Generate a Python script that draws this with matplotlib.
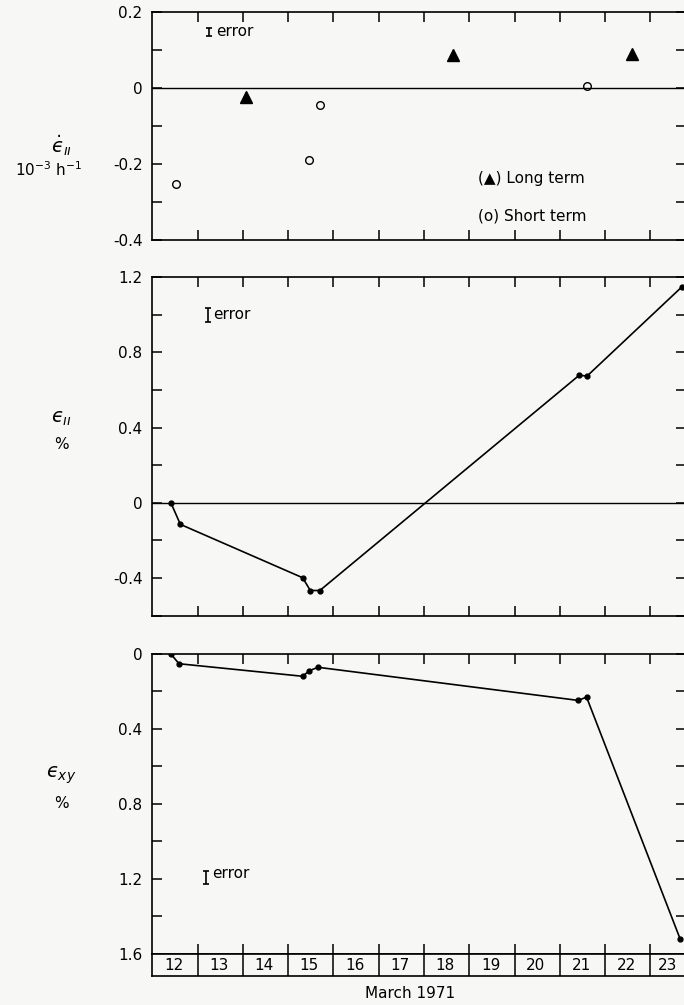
import matplotlib
matplotlib.use('Agg')
import matplotlib.pyplot as plt
import numpy as np

# ---------------- data ----------------
days = list(range(12, 24))
day_labels = [str(d) for d in days]

# top panel: strain rate (10^-3 h^-1)
long_x = [14.06, 18.63, 22.60]
long_y = [-0.022, 0.087, 0.091]
short_x = [12.53, 15.46, 15.70, 21.61]
short_y = [-0.251, -0.188, -0.045, 0.006]

# middle panel: longitudinal strain (%)
eii_x = [12.41, 12.62, 15.32, 15.49, 15.70, 21.43, 21.60, 23.70]
eii_y = [0.0, -0.115, -0.399, -0.467, -0.467, 0.679, 0.674, 1.150]

# bottom panel: shear strain (%)
exy_x = [12.41, 12.59, 15.32, 15.47, 15.66, 21.41, 21.59, 23.66]
exy_y = [0.0, 0.052, 0.119, 0.089, 0.071, 0.248, 0.230, 1.524]

# error-bar half sizes for the "I error" keys
err_top = 0.011
err_mid = 0.036
err_bot = 0.036

top_ticks = [0.2, 0.1, 0.0, -0.1, -0.2, -0.3, -0.4]
top_labels = ['0.2', '', '0', '', '-0.2', '', '-0.4']
mid_ticks = [1.2, 1.0, 0.8, 0.6, 0.4, 0.2, 0.0, -0.2, -0.4, -0.6]
mid_labels = ['1.2', '', '0.8', '', '0.4', '', '0', '', '-0.4', '']
bot_ticks = [0.0, 0.2, 0.4, 0.6, 0.8, 1.0, 1.2, 1.4, 1.6]
bot_labels = ['0', '', '0.4', '', '0.8', '', '1.2', '', '1.6']

# ---------------- layout ----------------
W, H = 684, 1005
BG = '#f7f8f6'
plt.rcParams['font.family'] = ['DejaVu Sans']
plt.rcParams['mathtext.fontset'] = 'dejavusans'

fig = plt.figure(figsize=(W / 100, H / 100), dpi=100, facecolor=BG)

def box(l, t, r, b):
    return [l / W, 1 - b / H, (r - l) / W, (b - t) / H]

L, R = 152.3, 686.0
XMAX = 12 + (R - L) / 45.28

ax1 = fig.add_axes(box(L, 12.5, R, 240.0))
ax2 = fig.add_axes(box(L, 277.3, R, 615.5))
ax3 = fig.add_axes(box(L, 654.0, R, 953.5))
axd = fig.add_axes(box(L, 953.5, R, 976.0))

FS = 11
for ax in (ax1, ax2, ax3):
    ax.set_facecolor(BG)
    ax.set_xlim(12, XMAX)
    ax.set_xticks(days[1:])
    ax.set_xticklabels([])
    ax.tick_params(axis='x', direction='in', top=True, bottom=True,
                   length=7, width=1.1, labelbottom=False)
    ax.tick_params(axis='y', direction='in', left=True, right=True,
                   length=7.5, width=1.1, labelsize=FS, pad=7,
                   labelright=False)
    for s in ax.spines.values():
        s.set_linewidth(1.2)

# top panel
ax1.set_ylim(-0.4, 0.2)
ax1.set_yticks(top_ticks, labels=top_labels)
ax1.axhline(0, color='black', lw=1.0)
ax1.plot(long_x, long_y, linestyle='none', marker='^', ms=8.5,
         color='black')
ax1.plot(short_x, short_y, linestyle='none', marker='o', ms=5.5,
         mfc='none', mec='black', mew=1.0)
ax1.errorbar([13.25], [0.149], yerr=[err_top], color='black', capsize=2.5,
             lw=1.2, capthick=1.2)
ax1.text(13.42, 0.149, 'error', fontsize=FS, va='center', ha='left')
ax1.text(19.2, -0.238, '(\u25B2) Long term', fontsize=FS, va='center',
         ha='left')
ax1.text(19.2, -0.337, '(o) Short term', fontsize=FS, va='center',
         ha='left')

# middle panel
ax2.set_ylim(-0.6, 1.2)
ax2.set_yticks(mid_ticks, labels=mid_labels)
ax2.axhline(0, color='black', lw=1.0)
ax2.plot(eii_x, eii_y, color='black', lw=1.2, marker='o', ms=3.5)
ax2.errorbar([13.22], [1.0], yerr=[err_mid], color='black', capsize=2.5,
             lw=1.2, capthick=1.2)
ax2.text(13.35, 1.0, 'error', fontsize=FS, va='center', ha='left')

# bottom panel
ax3.set_ylim(1.6, 0.0)
ax3.set_yticks(bot_ticks, labels=bot_labels)
ax3.plot(exy_x, exy_y, color='black', lw=1.2, marker='o', ms=3.5)
ax3.errorbar([13.18], [1.194], yerr=[err_bot], color='black', capsize=2.5,
             lw=1.2, capthick=1.2)
ax3.text(13.33, 1.175, 'error', fontsize=FS, va='center', ha='left')

# day box
axd.set_facecolor(BG)
axd.set_xlim(12, XMAX)
axd.set_ylim(0, 1)
axd.set_xticks([])
axd.set_yticks([])
for s in axd.spines.values():
    s.set_linewidth(1.2)
for d in days[1:]:
    axd.axvline(d, color='black', lw=1.1)
for d, lab in zip(days, day_labels):
    cx = d + 0.47 if d < 23 else (d + 23.75) / 2
    axd.text(cx, 0.45, lab, fontsize=FS, ha='center', va='center')

fig.text(410 / W, 1 - 993 / H, 'March 1971', fontsize=FS, ha='center',
         va='center')

# y-axis labels
EPS = '\u03f5'
ylx = -0.17
ax1.text(ylx, -0.15, r'$\dot{' + EPS + r'}_{\imath\imath}$', fontsize=14,
         ha='center', va='center', transform=ax1.get_yaxis_transform())
ax1.text(ylx - 0.025, -0.215, r'10$^{-3}$ h$^{-1}$', fontsize=FS,
         ha='center', va='center', transform=ax1.get_yaxis_transform())
ax2.text(ylx, 0.45, r'$' + EPS + r'_{\imath\imath}$', fontsize=14,
         ha='center', va='center', transform=ax2.get_yaxis_transform())
ax2.text(ylx, 0.31, '%', fontsize=FS, ha='center', va='center',
         transform=ax2.get_yaxis_transform())
ax3.text(ylx, 0.65, r'$' + EPS + r'_{xy}$', fontsize=14,
         ha='center', va='center', transform=ax3.get_yaxis_transform())
ax3.text(ylx, 0.80, '%', fontsize=FS, ha='center', va='center',
         transform=ax3.get_yaxis_transform())

fig.savefig('out.png', dpi=100, facecolor=BG)
